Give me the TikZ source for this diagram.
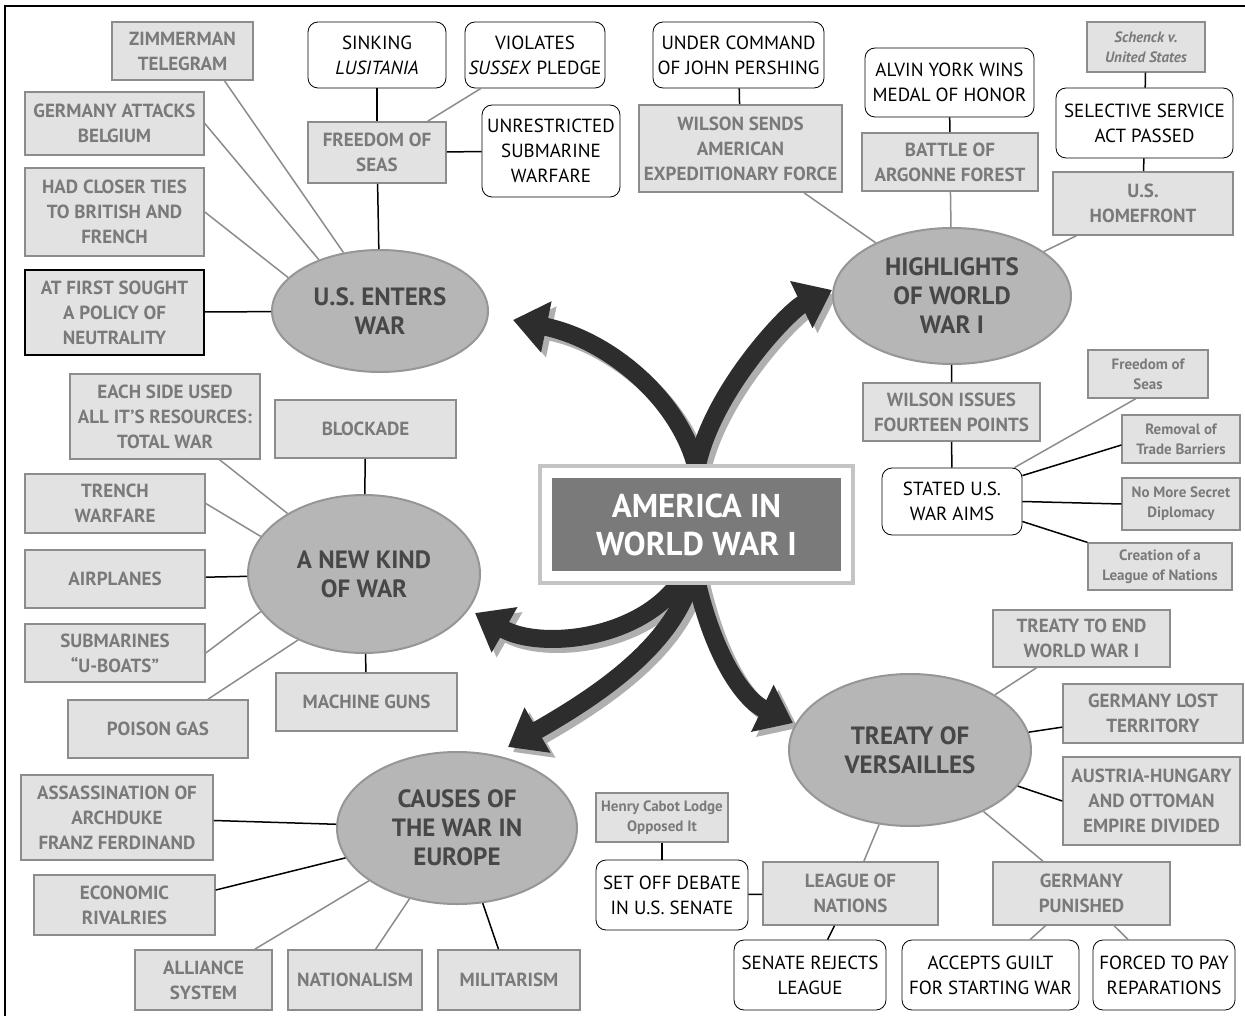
\documentclass[tikz,border=0pt]{standalone}
\usepackage{fontspec}
\setmainfont{PT Sans}
\usepackage{tikz}
\usetikzlibrary{shapes.geometric, arrows.meta, calc, backgrounds}
\definecolor{boxfill}{RGB}{226, 226, 226}
\definecolor{boxline}{RGB}{140, 140, 140}
\definecolor{boxtext}{RGB}{122, 122, 122}
\definecolor{ovalfill}{RGB}{182, 182, 182}
\definecolor{ovalline}{RGB}{150, 150, 150}
\definecolor{titlefill}{RGB}{122, 122, 122}
\definecolor{titleframe}{RGB}{196, 196, 196}
\definecolor{arrowcolor}{RGB}{45, 45, 45}
\definecolor{shadowcolor}{RGB}{175, 175, 175}

\begin{document}
\begin{tikzpicture}[
    x=1pt, y=-1pt,
    fact/.style={draw=boxline, fill=boxfill, line width=1.6pt, text=boxtext, align=center, inner sep=0pt, font=\fontsize{19}{25}\selectfont\bfseries},
    aim/.style={fact, line width=1.2pt, font=\fontsize{15}{20}\selectfont\bfseries},
    note/.style={draw, fill=white, rounded corners=10pt, line width=0.8pt, align=center, inner sep=0pt, font=\fontsize{19}{25}\selectfont},
    topic/.style={ellipse, draw=ovalline, fill=ovalfill, line width=2pt, text=black!72, align=center, inner sep=0pt, font=\fontsize{25}{29}\selectfont\bfseries},
    link/.style={boxline, line width=1.5pt},
    dark link/.style={black, line width=1.5pt},
    bigarrow/.style={line width=18pt, -{Triangle[length=34pt, width=50pt]}}
]
    \useasboundingbox (0,0) rectangle (1245,1016);
    \draw[line width=2.5pt] (5,1016) -- (5,6) -- (1245,6);

    % U.S. enters war
    \node[fact, minimum width=141pt, minimum height=58pt] (zimm) at (182.5,51) {ZIMMERMAN\\TELEGRAM};
    \node[fact, minimum width=179pt, minimum height=63pt] (belgium) at (114.5,123.5) {GERMANY ATTACKS\\BELGIUM};
    \node[fact, minimum width=179pt, minimum height=88pt] (ties) at (114.5,212) {HAD CLOSER TIES\\TO BRITISH AND\\FRENCH};
    \node[fact, draw=black, minimum width=179pt, minimum height=85pt] (neutral) at (114.5,312.5) {AT FIRST SOUGHT\\A POLICY OF\\NEUTRALITY};
    \node[topic, minimum width=216pt, minimum height=122pt] (usenters) at (380,311) {U.S. ENTERS\\WAR};
    \node[fact, minimum width=138pt, minimum height=61pt] (seas) at (377,152.5) {FREEDOM OF\\SEAS};
    \node[note, minimum width=138pt, minimum height=66pt] (lusitania) at (377,55) {SINKING\\\textit{LUSITANIA}};
    \node[note, minimum width=140pt, minimum height=66pt] (sussex) at (535,55) {VIOLATES\\\textit{SUSSEX} PLEDGE};
    \node[note, minimum width=138pt, minimum height=92pt] (unrestricted) at (551,151) {UNRESTRICTED\\SUBMARINE\\WARFARE};

    % Highlights
    \node[note, minimum width=171pt, minimum height=66pt] (pershing) at (738.5,55) {UNDER COMMAND\\OF JOHN PERSHING};
    \node[fact, minimum width=203pt, minimum height=87pt] (aef) at (740.5,148.5) {WILSON SENDS\\AMERICAN\\EXPEDITIONARY FORCE};
    \node[note, minimum width=169pt, minimum height=69pt] (york) at (949.5,82.5) {ALVIN YORK WINS\\MEDAL OF HONOR};
    \node[fact, minimum width=176pt, minimum height=58pt] (argonne) at (950,162) {BATTLE OF\\ARGONNE FOREST};
    \node[aim, minimum width=118pt, minimum height=50pt, font=\fontsize{15}{20}\selectfont\bfseries\itshape] (schenck) at (1146,47) {Schenck v.\\United States};
    \node[note, minimum width=177pt, minimum height=70pt] (draft) at (1144.5,123) {SELECTIVE SERVICE\\ACT PASSED};
    \node[fact, minimum width=180pt, minimum height=63pt] (homefront) at (1143,203.5) {U.S.\\HOMEFRONT};
    \node[topic, minimum width=238pt, minimum height=136pt] (highlights) at (952,296) {HIGHLIGHTS\\OF WORLD\\WAR I};
    \node[fact, minimum width=177pt, minimum height=58pt] (fourteen) at (951.5,412) {WILSON ISSUES\\FOURTEEN POINTS};
    \node[note, minimum width=140pt, minimum height=67pt] (aims) at (952,501.5) {STATED U.S.\\WAR AIMS};
    \node[aim, minimum width=120pt, minimum height=48pt] (fseas) at (1148,374) {Freedom of\\Seas};
    \node[aim, minimum width=118pt, minimum height=48pt] (trade) at (1181,439) {Removal of\\Trade Barriers};
    \node[aim, minimum width=118pt, minimum height=52pt] (secret) at (1181,504) {No More Secret\\Diplomacy};
    \node[aim, minimum width=144pt, minimum height=47pt] (nationsaim) at (1160,566.5) {Creation of a\\League of Nations};

    % Title
    \node[fill=titlefill, draw=white, line width=10pt, minimum width=299pt, minimum height=103pt, text=white, align=center, font=\fontsize{33}{38}\selectfont\bfseries] (america) at (696.5,524.5) {AMERICA IN\\WORLD WAR I};
    \draw[titleframe, line width=4pt] ([shift={(-2pt,2pt)}]america.north west) rectangle ([shift={(2pt,-2pt)}]america.south east);

    % A new kind of war
    \node[fact, minimum width=190pt, minimum height=85pt] (totalwar) at (165,416.5) {EACH SIDE USED\\ALL IT'S RESOURCES:\\TOTAL WAR};
    \node[fact, minimum width=181pt, minimum height=58pt] (blockade) at (365.5,429) {BLOCKADE};
    \node[fact, minimum width=180pt, minimum height=59pt] (trench) at (115,503.5) {TRENCH\\WARFARE};
    \node[fact, minimum width=180pt, minimum height=58pt] (airplanes) at (115,579) {AIRPLANES};
    \node[fact, minimum width=180pt, minimum height=58pt] (uboats) at (115,653) {SUBMARINES\\``U-BOATS''};
    \node[fact, minimum width=180pt, minimum height=58pt] (gas) at (158,729) {POISON GAS};
    \node[fact, minimum width=181pt, minimum height=58pt] (guns) at (366.5,702) {MACHINE GUNS};
    \node[topic, minimum width=232pt, minimum height=158pt] (newwar) at (364,574) {A NEW KIND\\OF WAR};

    % Causes
    \node[fact, minimum width=192pt, minimum height=85pt] (archduke) at (117,817.5) {ASSASSINATION OF\\ARCHDUKE\\FRANZ FERDINAND};
    \node[fact, minimum width=181pt, minimum height=60pt] (rivalries) at (124.5,905) {ECONOMIC\\RIVALRIES};
    \node[fact, minimum width=137pt, minimum height=60pt] (alliance) at (203.5,980) {ALLIANCE\\SYSTEM};
    \node[fact, minimum width=134pt, minimum height=60pt] (nationalism) at (355,980) {NATIONALISM};
    \node[fact, minimum width=142pt, minimum height=60pt] (militarism) at (509,980) {MILITARISM};
    \node[topic, minimum width=240pt, minimum height=152pt] (causes) at (457,828) {CAUSES OF\\THE WAR IN\\EUROPE};

    % Versailles
    \node[fact, minimum width=177pt, minimum height=57pt] (endwar) at (1081.5,638.5) {TREATY TO END\\WORLD WAR I};
    \node[fact, minimum width=180pt, minimum height=59pt] (territory) at (1153,713.5) {GERMANY LOST\\TERRITORY};
    \node[fact, minimum width=177pt, minimum height=88pt] (divided) at (1151.5,801) {AUSTRIA-HUNGARY\\AND OTTOMAN\\EMPIRE DIVIDED};
    \node[topic, minimum width=242pt, minimum height=152pt] (versailles) at (910,750) {TREATY OF\\VERSAILLES};
    \node[fact, minimum width=175pt, minimum height=63pt] (nations) at (850.5,893.5) {LEAGUE OF\\NATIONS};
    \node[fact, minimum width=177pt, minimum height=63pt] (punished) at (1081.5,893.5) {GERMANY\\PUNISHED};
    \node[aim, minimum width=132pt, minimum height=49pt] (lodge) at (662,817.5) {Henry Cabot Lodge\\Opposed It};
    \node[note, minimum width=152pt, minimum height=70pt] (debate) at (672,895) {SET OFF DEBATE\\IN U.S. SENATE};
    \node[note, minimum width=152pt, minimum height=70pt] (rejects) at (810,975) {SENATE REJECTS\\LEAGUE};
    \node[note, minimum width=177pt, minimum height=70pt] (guilt) at (990.5,975) {ACCEPTS GUILT\\FOR STARTING WAR};
    \node[note, minimum width=142pt, minimum height=70pt] (reparations) at (1164,975) {FORCED TO PAY\\REPARATIONS};

    % Links
    \draw[link] ([xshift=42pt]zimm.south) -- (usenters.122);
    \draw[link] (belgium.east) -- (usenters.140);
    \draw[link] (ties.east) -- (usenters.160);
    \draw[dark link] (neutral) -- (usenters);
    \draw[dark link] (seas) -- (usenters);
    \draw[dark link] (lusitania) -- (seas);
    \draw[link] (sussex) -- (seas);
    \draw[dark link] (seas) -- (unrestricted);

    \draw[dark link] (pershing) -- (aef);
    \draw[link] (aef) -- (highlights);
    \draw[dark link] (york) -- (argonne);
    \draw[link] (argonne) -- (highlights);
    \draw[dark link] (schenck) -- (draft);
    \draw[dark link] (draft) -- (homefront);
    \draw[link] (homefront) -- (highlights);
    \draw[dark link] (highlights) -- (fourteen);
    \draw[dark link] (fourteen) -- (aims);
    \draw[link] ([xshift=-8pt]aims.north east) -- ([xshift=-12pt]fseas.south);
    \draw[dark link] ([yshift=-8pt]aims.north east) -- ([yshift=-6pt]trade.west);
    \draw[dark link] (aims.east) -- (secret.west);
    \draw[dark link] ([yshift=-20pt]aims.east) -- (nationsaim.north west);

    \draw[link] (totalwar) -- (newwar);
    \draw[link] (trench.east) -- (newwar.160);
    \draw[dark link] (airplanes) -- (newwar);
    \draw[link] (uboats.east) -- (newwar.200);
    \draw[link] ([xshift=50pt]gas.north) -- (newwar.225);
    \draw[dark link] (blockade) -- (newwar);
    \draw[dark link] (newwar) -- (guns);

    \draw[dark link] (archduke) -- (causes);
    \draw[dark link] ([yshift=15pt]rivalries.east) -- (causes.195);
    \draw[link] (alliance) -- (causes);
    \draw[link] (nationalism) -- (causes);
    \draw[dark link] (militarism) -- (causes);

    \draw[link] (endwar) -- (versailles);
    \draw[dark link] (territory) -- (versailles);
    \draw[dark link] (divided.west) -- (versailles);
    \draw[link] (nations) -- (versailles);
    \draw[link] (punished) -- (versailles);
    \draw[dark link] (lodge.south) -- (lodge.south |- debate.north);
    \draw[dark link] (debate) -- (nations);
    \draw[dark link] (nations) -- (rejects);
    \draw[link] (punished) -- (guilt);
    \draw[link] (punished) -- (reparations);

    % Big arrows with shadow
    \begin{scope}[on background layer]
        \fill[white] (0,0) rectangle (1245,1016);
        \foreach \col/\dx in {shadowcolor/5pt, arrowcolor/0pt} {
            \begin{scope}[color=\col, transform canvas={xshift=\dx, yshift=-\dx}]
                \draw[bigarrow] (america.north) .. controls (680,400) and (610,340) .. ($(usenters.east)+(24,9)$);
                \draw[bigarrow] (america.north) .. controls (712,390) and (790,310) .. ($(highlights.west)+(0,-6)$);
                \draw[bigarrow] ([xshift=-16pt]america.south) .. controls (640,640) and (540,650) .. ($(newwar.east)+(-6,39)$);
                \draw[bigarrow] ([xshift=-6pt]america.south) .. controls (670,650) and (590,700) .. ($(causes.north)+(51,-4)$);
                \draw[bigarrow] (america.south) .. controls (715,660) and (745,700) .. ($(versailles.west)+(5,-27)$);
            \end{scope}
        }
    \end{scope}
\end{tikzpicture}
\end{document}
